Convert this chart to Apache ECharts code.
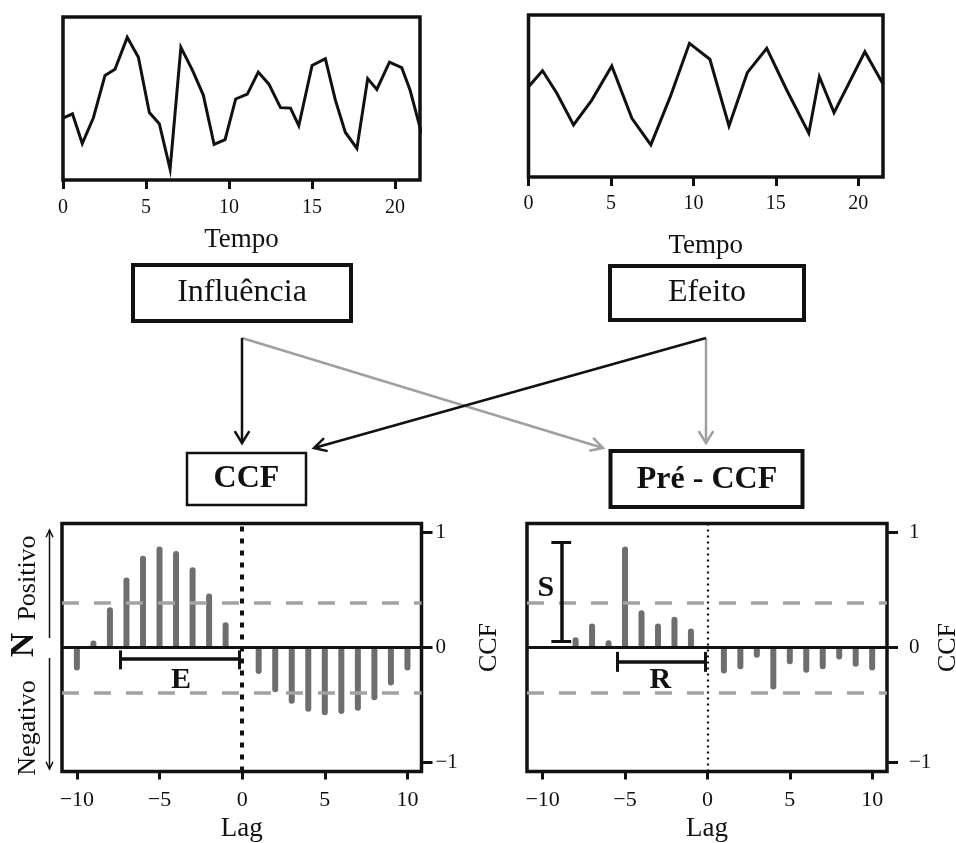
<!DOCTYPE html>
<html>
<head>
<meta charset="utf-8">
<title>CCF e Pré-CCF</title>
<script src="https://cdn.jsdelivr.net/npm/echarts@6/dist/echarts.min.js"></script>
<style>
  html, body { margin: 0; padding: 0; background: #ffffff; }
  #main { width: 956px; height: 843px; }
</style>
</head>
<body>
<div id="main"></div>
<script>
// Série de influência (tempo, valor relativo)
const influenceTime = [0, 0.57, 1.16, 1.83, 2.53, 3.13, 3.87, 4.54, 5.2, 5.8, 6.45, 7.1, 7.8, 8.45,
  9.1, 9.76, 10.4, 11.1, 11.76, 12.4, 13.1, 13.7, 14.2, 15, 15.8, 16.4, 17, 17.7, 18.35, 18.9,
  19.66, 20.4, 20.9, 21.6];
const influenceValues = [38, 40.6, 22.4, 38.2, 64.2, 67.9, 87.5, 75.3, 41.4, 34.5, 6.7, 81.4, 67.3, 52.1,
  21.8, 24.8, 49.7, 52.7, 66.2, 58.8, 44.4, 44.1, 33.3, 70.3, 74.4, 49.1, 29.3, 19.4, 62.2, 55.6,
  72.3, 68.9, 55.2, 28.5];

// Série de efeito
const effectTime = [0, 0.85, 1.72, 2.73, 3.84, 5.05, 6.27, 7.42, 8.6, 9.76, 11.0, 12.16, 13.27,
  14.45, 15.66, 17.0, 17.64, 18.53, 20.4, 21.5];
const effectValues = [55.7, 65.6, 51.7, 32.1, 47.5, 68.5, 36.2, 19.8, 49.6, 82.5, 72.7, 31.5, 64.4,
  79.4, 53.7, 27, 61.9, 39.7, 77.3, 57.4];

// Correlação cruzada por defasagem
const lags = [-10, -9, -8, -7, -6, -5, -4, -3, -2, -1, 0, 1, 2, 3, 4, 5, 6, 7, 8, 9, 10];
const ccfValues = [-0.2, 0.06, 0.35, 0.61, 0.8, 0.88, 0.84, 0.7, 0.47, 0.22, 0,
  -0.23, -0.39, -0.49, -0.56, -0.59, -0.58, -0.55, -0.46, -0.33, -0.2];
const preCcfValues = [0, 0, 0.09, 0.21, 0.064, 0.88, 0.325, 0.21, 0.267, 0.165, 0,
  -0.226, -0.19, -0.09, -0.365, -0.145, -0.22, -0.19, -0.104, -0.168, -0.2];

// Marcas dos eixos
const timeTicks = [0, 5, 10, 15, 20];
const lagTicks = [-10, -5, 0, 5, 10];
const ccfTicks = [-1, 0, 1];
const significance = 0.39;

// Colchetes anotados: E (defasagem do CCF), R (defasagem do pré-CCF), S (força)
const bracketE = { from: -7.4, to: -0.15, y: -0.096, capLow: -0.19, capHigh: -0.025 };
const bracketR = { from: -5.48, to: -0.14, y: -0.125, capLow: -0.212, capHigh: -0.038 };
const bracketS = { x: -8.87, from: 0.055, to: 0.913, capHalf: 0.6 };

const FONT = 'Liberation Serif';
const INK = '#111111';
const BAR = '#6e6e6e';
const DASH = '#a3a3a3';

const minus = v => (v < 0 ? '\u2212' + Math.abs(v) : String(v));
const pairs = (xs, ys) => xs.map((x, i) => [x, ys[i]]);

function barData(values) {
  return lags.map((l, i) => ({
    value: [l, values[i]],
    itemStyle: { borderRadius: values[i] >= 0 ? [3, 3, 0, 0] : [0, 0, 3, 3] }
  }));
}

function seg(x1, y1, x2, y2, width) {
  return [
    { coord: [x1, y1], lineStyle: { color: INK, width: width, type: 'solid' } },
    { coord: [x2, y2] }
  ];
}

function hBracket(b) {
  return [
    seg(b.from, b.y, b.to, b.y, 3.5),
    seg(b.from, b.capLow, b.from, b.capHigh, 3),
    seg(b.to, b.capLow, b.to, b.capHigh, 3)
  ];
}

function vBracket(b) {
  return [
    seg(b.x, b.from, b.x, b.to, 3.5),
    seg(b.x - b.capHalf, b.from, b.x + b.capHalf, b.from, 3),
    seg(b.x - b.capHalf, b.to, b.x + b.capHalf, b.to, 3)
  ];
}

function refLines(zeroDash) {
  return [
    { yAxis: significance, lineStyle: { color: DASH, width: 3.5, type: [17, 15] } },
    { yAxis: -significance, lineStyle: { color: DASH, width: 3.5, type: [17, 15] } },
    { yAxis: 0, lineStyle: { color: INK, width: 3, type: 'solid' } },
    { xAxis: 0, lineStyle: zeroDash }
  ];
}

function timeAxis(grid, max, gap, margin) {
  return {
    gridIndex: grid, type: 'value', min: 0, max: max,
    axisLine: { show: false, onZero: false },
    splitLine: { show: false },
    axisTick: { show: true, customValues: timeTicks, length: 9, lineStyle: { color: INK, width: 3 } },
    axisLabel: { customValues: timeTicks, margin: margin, color: INK, fontFamily: FONT, fontSize: 20 },
    name: 'Tempo', nameLocation: 'middle', nameGap: gap,
    nameTextStyle: { color: INK, fontFamily: FONT, fontSize: 27 }
  };
}

function lagAxis(grid, min, max) {
  return {
    gridIndex: grid, type: 'value', min: min, max: max,
    axisLine: { show: false, onZero: false },
    splitLine: { show: false },
    axisTick: { show: true, customValues: lagTicks, length: 8, lineStyle: { color: INK, width: 3 } },
    axisLabel: { customValues: lagTicks, margin: 18, color: INK, fontFamily: FONT, fontSize: 22, formatter: minus },
    name: 'Lag', nameLocation: 'middle', nameGap: 44,
    nameTextStyle: { color: INK, fontFamily: FONT, fontSize: 27 }
  };
}

function ccfAxis(grid, labelMargin, nameGap) {
  return {
    gridIndex: grid, type: 'value', position: 'right', min: -1.08, max: 1.08,
    axisLine: { show: false, onZero: false },
    splitLine: { show: false },
    axisTick: { show: true, customValues: ccfTicks, length: 11, lineStyle: { color: INK, width: 3 } },
    axisLabel: { customValues: ccfTicks, margin: labelMargin, color: INK, fontFamily: FONT, fontSize: 21, formatter: minus },
    name: 'CCF', nameLocation: 'middle', nameGap: nameGap, nameRotate: 90,
    nameTextStyle: { color: INK, fontFamily: FONT, fontSize: 26 }
  };
}

const boxStyle = {
  show: true, borderColor: INK, borderWidth: 3.5, backgroundColor: 'transparent',
  outerBoundsMode: 'none', containLabel: false
};

// Elementos do diagrama: caixas, setas e rótulos laterais
function arrowHead(x1, y1, x2, y2, color, width, len, half) {
  const a = Math.atan2(y2 - y1, x2 - x1);
  return {
    type: 'polyline',
    shape: { points: [
      [x2 - len * Math.cos(a - half), y2 - len * Math.sin(a - half)],
      [x2, y2],
      [x2 - len * Math.cos(a + half), y2 - len * Math.sin(a + half)]
    ] },
    style: { stroke: color, lineWidth: width, fill: null, lineJoin: 'miter' }
  };
}
function arrow(x1, y1, x2, y2, color, width, len, half) {
  return [
    { type: 'line', shape: { x1: x1, y1: y1, x2: x2, y2: y2 }, style: { stroke: color, lineWidth: width } },
    arrowHead(x1, y1, x2, y2, color, width, len, half)
  ];
}
function box(x, y, w, h, lw, label, bold, cx, cy) {
  return [
    { type: 'rect', shape: { x: x, y: y, width: w, height: h }, style: { fill: '#ffffff', stroke: INK, lineWidth: lw } },
    { type: 'text', x: cx, y: cy, style: { text: label, fill: INK, align: 'center', verticalAlign: 'middle',
      font: (bold ? 'bold ' : '') + '32px "' + FONT + '"' } }
  ];
}
function sideText(label, x, y, size, bold) {
  return { type: 'text', x: x, y: y, rotation: Math.PI / 2,
    style: { text: label, fill: INK, align: 'center', verticalAlign: 'middle',
      font: (bold ? 'bold ' : '') + size + 'px "' + FONT + '"' } };
}

const GRAY = '#a0a0a0';
const graphics = [].concat(
  box(133, 265, 218, 56, 4, 'Influência', false, 242, 293),
  box(610, 266, 194, 54, 4, 'Efeito', false, 707, 293),
  box(187, 453, 119, 52, 2.5, 'CCF', true, 246.5, 479),
  box(610.5, 451, 192, 56, 4, 'Pré - CCF', true, 707, 480),
  arrow(242, 338, 603, 448, GRAY, 2.5, 14, 0.5),
  arrow(706, 338, 706, 443, GRAY, 2.5, 14, 0.55),
  arrow(242, 338, 242, 443, INK, 2.5, 14, 0.55),
  arrow(706, 338, 314, 448, INK, 2.5, 14, 0.5),
  arrow(49.5, 638, 49.5, 530, INK, 1.5, 8, 0.45),
  arrow(49.5, 658, 49.5, 769, INK, 1.5, 8, 0.45),
  [
    sideText('Positivo', 28, 578, 26, false),
    sideText('Negativo', 28, 728, 26, false),
    sideText('N', 24, 645, 34, true)
  ]
);

const letterLabel = { show: true, formatter: '{b}', color: INK, fontFamily: FONT, fontWeight: 'bold', fontSize: 30 };

const option = {
  animation: false,
  backgroundColor: '#ffffff',
  grid: [
    Object.assign({ left: 63, top: 17, width: 357, height: 163 }, boxStyle),
    Object.assign({ left: 528.5, top: 15, width: 354.5, height: 162 }, boxStyle),
    Object.assign({ left: 62, top: 523.5, width: 359.5, height: 248 }, boxStyle),
    Object.assign({ left: 527, top: 523.5, width: 360, height: 248 }, boxStyle)
  ],
  xAxis: [
    timeAxis(0, 21.5, 46, 18),
    timeAxis(1, 21.5, 55, 17),
    lagAxis(2, -10.9, 10.85),
    lagAxis(3, -10.95, 10.9)
  ],
  yAxis: [
    { gridIndex: 0, type: 'value', min: 0, max: 100, show: false },
    { gridIndex: 1, type: 'value', min: 0, max: 100, show: false },
    ccfAxis(2, 14, 55),
    ccfAxis(3, 22, 46)
  ],
  series: [
    {
      name: 'Influência', type: 'line', xAxisIndex: 0, yAxisIndex: 0,
      data: pairs(influenceTime, influenceValues), symbol: 'none', clip: true,
      lineStyle: { color: INK, width: 3, join: 'miter' }
    },
    {
      name: 'Efeito', type: 'line', xAxisIndex: 1, yAxisIndex: 1,
      data: pairs(effectTime, effectValues), symbol: 'none', clip: true,
      lineStyle: { color: INK, width: 3, join: 'miter' }
    },
    {
      name: 'CCF', type: 'bar', xAxisIndex: 2, yAxisIndex: 2,
      data: barData(ccfValues), barWidth: 6, itemStyle: { color: BAR },
      markLine: {
        silent: true, symbol: 'none', label: { show: false }, animation: false,
        data: refLines({ color: INK, width: 4, type: [5, 7] }).concat(hBracket(bracketE))
      },
      markPoint: {
        silent: true, symbol: 'circle', symbolSize: 0, label: letterLabel,
        data: [{ name: 'E', coord: [-3.7, -0.285] }]
      }
    },
    {
      name: 'Pré-CCF', type: 'bar', xAxisIndex: 3, yAxisIndex: 3,
      data: barData(preCcfValues), barWidth: 6, itemStyle: { color: BAR },
      markLine: {
        silent: true, symbol: 'none', label: { show: false }, animation: false,
        data: refLines({ color: INK, width: 2.2, type: [2, 4] }).concat(hBracket(bracketR), vBracket(bracketS))
      },
      markPoint: {
        silent: true, symbol: 'circle', symbolSize: 0, label: letterLabel,
        data: [
          { name: 'R', coord: [-2.86, -0.285] },
          { name: 'S', coord: [-9.8, 0.52] }
        ]
      }
    }
  ],
  graphic: graphics
};

const chart = echarts.init(document.getElementById('main'), null, { renderer: 'canvas' });
chart.setOption(option);
</script>
</body>
</html>
